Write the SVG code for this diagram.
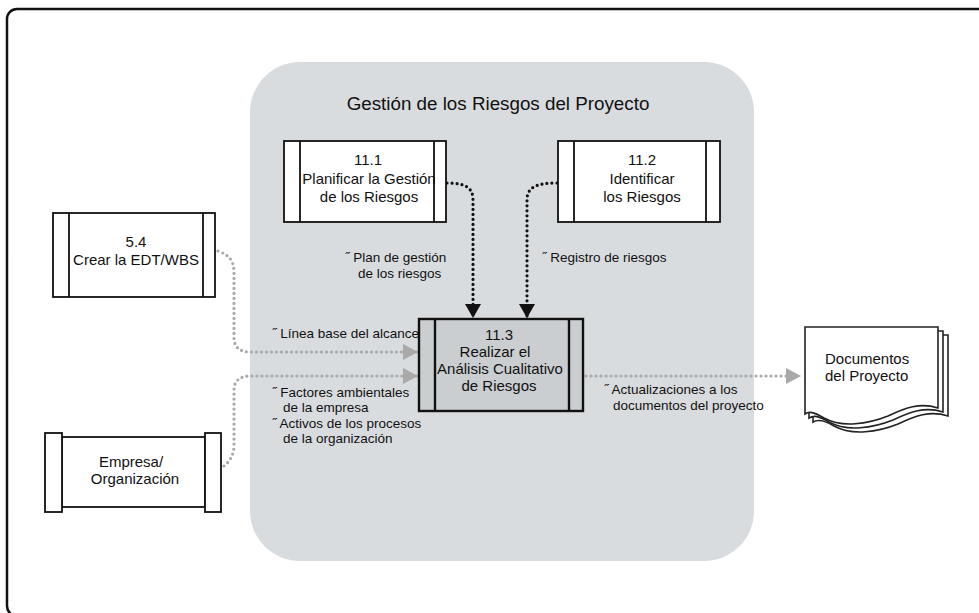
<svg xmlns="http://www.w3.org/2000/svg" width="979" height="613" viewBox="0 0 979 613">
<style>
text{font-family:"Liberation Sans",Arial,sans-serif;fill:#111}
.t{font-size:15px;text-anchor:middle}
.l{font-size:13.5px}
.box{fill:#fff;stroke:#111;stroke-width:1.8}
.gbox{fill:#cbced1;stroke:#111;stroke-width:2.4}
.dk{fill:none;stroke:#111;stroke-width:3.2;stroke-linecap:round;stroke-dasharray:0 5}
.gr{fill:none;stroke:#a9a9a9;stroke-width:3.2;stroke-linecap:round;stroke-dasharray:0 5}
.doc{fill:#fff;stroke:#222;stroke-width:1.6}
</style>
<defs>
<marker id="ab" markerUnits="userSpaceOnUse" markerWidth="16" markerHeight="16" refX="14" refY="8" orient="auto"><path d="M0,0 L14,8 L0,16 z" fill="#111"/></marker>
<marker id="ag" markerUnits="userSpaceOnUse" markerWidth="16" markerHeight="16" refX="15" refY="8" orient="auto"><path d="M0,0 L15,8 L0,16 z" fill="#a9a9a9"/></marker>
</defs>
<rect width="979" height="613" fill="#fff"/>
<rect x="7" y="9" width="1000" height="607" rx="10" fill="none" stroke="#111" stroke-width="2.5"/>
<g id="panel">
<rect x="250" y="62" width="504" height="499" rx="50" fill="#d9dcde"/>
<text x="498" y="110" style="font-size:18.8px;text-anchor:middle">Gestión de los Riesgos del Proyecto</text>
</g>
<g id="connectors">
<path class="dk" d="M447,183 C466,183 473,188 473,200 L473,318" marker-end="url(#ab)"/>
<path class="dk" d="M557,183 C535,183 527,188 527,200 L527,318" marker-end="url(#ab)"/>
<path class="gr" d="M218,251 C230,255 234,262 234,272 L234,338 C234,347 240,352 250,352 L418,352" marker-end="url(#ag)"/>
<path class="gr" d="M224,466 C230,461 234,455 234,445 L234,390 C234,381 240,376 250,376 L418,376" marker-end="url(#ag)"/>
<path class="gr" d="M586,376 L801,376" marker-end="url(#ag)"/>
</g>
<g id="n11_1">
<rect class="box" x="284" y="141" width="162" height="81"/>
<line class="box" x1="300" y1="141" x2="300" y2="222"/>
<line class="box" x1="434" y1="141" x2="434" y2="222"/>
<text class="t" x="368" y="165">11.1</text>
<text class="t" x="369" y="184">Planificar la Gestión</text>
<text class="t" x="369" y="202">de los Riesgos</text>
</g>
<g id="n11_2">
<rect class="box" x="558" y="141" width="162" height="81"/>
<line class="box" x1="574" y1="141" x2="574" y2="222"/>
<line class="box" x1="706" y1="141" x2="706" y2="222"/>
<text class="t" x="642" y="165">11.2</text>
<text class="t" x="642" y="184">Identificar</text>
<text class="t" x="642" y="202">los Riesgos</text>
</g>
<g id="n5_4">
<rect class="box" x="53" y="213" width="162" height="84"/>
<line class="box" x1="69" y1="213" x2="69" y2="297"/>
<line class="box" x1="203" y1="213" x2="203" y2="297"/>
<text class="t" x="136" y="247">5.4</text>
<text class="t" x="136" y="265">Crear la EDT/WBS</text>
</g>
<g id="n11_3">
<rect class="gbox" x="419" y="319" width="164" height="92"/>
<line class="gbox" x1="435" y1="319" x2="435" y2="411"/>
<line class="gbox" x1="569" y1="319" x2="569" y2="411"/>
<text class="t" x="499" y="340">11.3</text>
<text class="t" x="495" y="357">Realizar el</text>
<text class="t" x="500" y="374">Análisis Cualitativo</text>
<text class="t" x="499" y="391">de Riesgos</text>
</g>
<g id="empresa">
<rect class="box" x="62" y="437" width="143" height="70"/>
<rect class="box" x="45" y="433" width="17" height="79"/>
<rect class="box" x="205" y="433" width="16" height="79"/>
<text class="t" x="131" y="467">Empresa/</text>
<text class="t" x="135" y="484">Organización</text>
</g>
<g id="docs">
<path class="doc" d="M813,335 L948,335 L948,416 C930,410 915,416 898,424 C878,432 852,436 834,426 C824,420 818,419 813,422 Z"/>
<path class="doc" d="M809,331 L943,331 L943,412 C925,406 910,412 893,420 C873,428 847,432 829,422 C819,416 814,415 809,418 Z"/>
<path class="doc" d="M805,327 L938,327 L938,408 C920,402 905,408 888,416 C868,424 842,428 824,418 C814,412 809,411 805,414 Z"/>
<text x="825" y="364" style="font-size:15px">Documentos</text>
<text x="825" y="381" style="font-size:15px">del Proyecto</text>
</g>
<g id="labels">
<text class="l" x="345" y="262">˝ Plan de gestión</text>
<text class="l" x="358" y="278">de los riesgos</text>
<text class="l" x="542" y="262">˝ Registro de riesgos</text>
<text class="l" x="272" y="338">˝ Línea base del alcance</text>
<text class="l" x="272" y="397">˝ Factores ambientales</text>
<text class="l" x="283" y="412">de la empresa</text>
<text class="l" x="272" y="428">˝ Activos de los procesos</text>
<text class="l" x="283" y="443">de la organización</text>
<text class="l" x="604" y="394">˝ Actualizaciones a los</text>
<text class="l" x="613" y="410">documentos del proyecto</text>
</g>
</svg>
